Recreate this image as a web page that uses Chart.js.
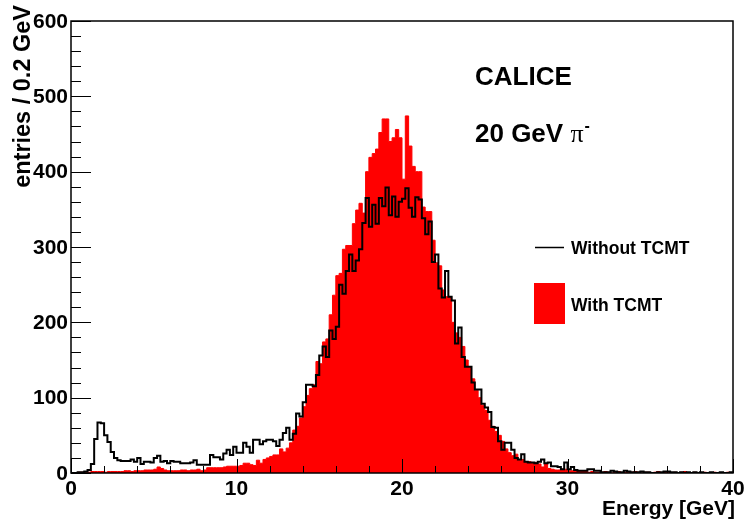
<!DOCTYPE html>
<html>
<head>
<meta charset="utf-8">
<script src="https://cdn.jsdelivr.net/npm/chart.js@4.4.0/dist/chart.umd.min.js"></script>
<style>
  html, body { margin: 0; padding: 0; background: #fff; }
  canvas { display: block; }
</style>
</head>
<body>
<canvas id="energyChart" width="744" height="519"></canvas>
<script>
// 200 bins of 0.2 GeV from 0 to 40 GeV
const binWidth = 0.2;

const withoutTcmt = [
    0, 0, 1, 1, 2, 4, 12, 45, 67, 66,
    50, 41, 28, 20, 17, 16, 16, 16, 18, 15,
    20, 12, 15, 15, 14, 20, 23, 15, 16, 13,
    16, 15, 15, 13, 13, 13, 14, 17, 11, 11,
    11, 11, 24, 21, 21, 18, 26, 31, 24, 35,
    27, 27, 40, 35, 27, 44, 44, 38, 42, 44,
    44, 42, 36, 44, 53, 60, 44, 52, 79, 75,
    94, 117, 117, 115, 130, 156, 168, 154, 189, 178,
    194, 250, 238, 268, 290, 268, 282, 297, 332, 365,
    327, 356, 331, 365, 354, 379, 342, 367, 340, 360,
    364, 378, 352, 340, 366, 363, 338, 317, 334, 280,
    290, 245, 233, 268, 234, 229, 172, 193, 154, 141,
    141, 120, 111, 111, 92, 87, 81, 61, 60, 42,
    31, 40, 40, 31, 20, 18, 25, 15, 14, 14,
    13, 15, 18, 13, 14, 9, 9, 8, 5, 14,
    5, 8, 4, 3, 3, 3, 5, 5, 3, 3,
    1, 1, 1, 3, 2, 1, 1, 3, 2, 1,
    1, 1, 2, 1, 1, 0, 0, 1, 1, 2,
    2, 1, 1, 0, 1, 0, 1, 0, 1, 0,
    1, 0, 0, 1, 0, 0, 1, 0, 0, 1
];

const withTcmt = [
    0, 0, 1, 1, 1, 1, 2, 2, 2, 2,
    1, 2, 2, 2, 2, 2, 3, 3, 2, 3,
    3, 3, 4, 4, 4, 5, 8, 6, 4, 3,
    3, 3, 3, 4, 4, 3, 4, 4, 5, 3,
    4, 7, 7, 7, 7, 7, 8, 9, 9, 9,
    9, 10, 13, 13, 11, 10, 17, 13, 18, 20,
    22, 24, 24, 32, 28, 33, 40, 57, 62, 73,
    88, 103, 112, 117, 148, 145, 174, 178, 210, 236,
    262, 265, 297, 302, 302, 331, 349, 358, 345, 400,
    419, 424, 430, 452, 470, 470, 440, 445, 456, 445,
    390, 474, 434, 407, 400, 400, 353, 347, 347, 309,
    279, 275, 243, 234, 234, 200, 186, 180, 168, 150,
    141, 125, 110, 100, 90, 83, 70, 62, 55, 50,
    42, 32, 27, 23, 25, 18, 18, 15, 15, 14,
    14, 12, 8, 12, 6, 5, 4, 4, 5, 5,
    3, 3, 3, 3, 2, 2, 1, 2, 1, 1,
    1, 2, 1, 0, 1, 2, 0, 1, 1, 1,
    2, 1, 0, 1, 1, 0, 1, 2, 0, 1,
    1, 0, 1, 0, 1, 2, 0, 0, 1, 0,
    0, 1, 0, 0, 1, 0, 0, 0, 1, 0
];

const xTickLabels = [0, 10, 20, 30, 40];
const yTickLabels = [0, 100, 200, 300, 400, 500, 600];
const seriesNames = ['Without TCMT', 'With TCMT'];

const boldFont = (px) => 'bold ' + px + 'px "Liberation Sans", Arial, Helvetica, sans-serif';

// histogram bins -> points for a stepped line (left edges + closing edge)
function toSteps(values) {
    let pts = values.map((v, i) => ({ x: i * binWidth, y: v }));
    pts.push({ x: values.length * binWidth, y: values[values.length - 1] });
    return pts;
}

// frame, inward ticks, labels, titles and legend drawn on top of the histograms
const rootAxes = {
    id: 'rootAxes',
    afterDatasetsDraw(chart) {
        const ctx = chart.ctx;
        const xs = chart.scales.x;
        const ys = chart.scales.y;
        const a = chart.chartArea;

        ctx.save();
        ctx.strokeStyle = '#000';
        ctx.fillStyle = '#000';

        // y ticks: major every 100, minor every 20
        ctx.lineWidth = 1;
        let yStep = yTickLabels[1] - yTickLabels[0];
        for (let v = ys.min; v <= ys.max; v += yStep / 5) {
            let py = Math.round(ys.getPixelForValue(v)) + 0.5;
            let len = v % yStep === 0 ? 20 : 10;
            ctx.beginPath();
            ctx.moveTo(a.left, py);
            ctx.lineTo(a.left + len, py);
            ctx.stroke();
        }

        // x ticks: major every 10 GeV, minor every 2 GeV
        let xStep = xTickLabels[1] - xTickLabels[0];
        for (let v = xs.min; v <= xs.max; v += xStep / 5) {
            let px = Math.round(xs.getPixelForValue(v)) + 0.5;
            let len = Math.round(v) % xStep === 0 ? 14 : 7;
            ctx.beginPath();
            ctx.moveTo(px, a.bottom);
            ctx.lineTo(px, a.bottom - len);
            ctx.stroke();
        }

        ctx.lineWidth = 1.5;
        ctx.strokeRect(a.left, a.top, a.right - a.left, a.bottom - a.top);

        // tick labels
        ctx.font = boldFont(21);
        ctx.textAlign = 'right';
        ctx.textBaseline = 'middle';
        yTickLabels.forEach(function (t) {
            ctx.fillText(String(t), a.left - 3, ys.getPixelForValue(t) + 1);
        });
        ctx.textAlign = 'center';
        ctx.textBaseline = 'alphabetic';
        xTickLabels.forEach(function (t) {
            ctx.fillText(String(t), xs.getPixelForValue(t), a.bottom + 22);
        });

        // axis titles
        ctx.font = boldFont(21);
        ctx.textAlign = 'right';
        ctx.fillText('Energy [GeV]', a.right + 2, a.bottom + 42);

        ctx.save();
        ctx.translate(30, 5);
        ctx.rotate(-Math.PI / 2);
        ctx.textAlign = 'right';
        ctx.font = boldFont(23.5);
        ctx.fillText('entries / 0.2 GeV', 0, 0);
        ctx.restore();

        // run labels
        ctx.textAlign = 'left';
        ctx.font = boldFont(26);
        ctx.fillText('CALICE', 475, 85);
        let head = '20 GeV ';
        ctx.fillText(head, 475, 142);
        let hx = 475 + ctx.measureText(head).width;
        ctx.font = '26px "Liberation Serif", "Times New Roman", serif';
        ctx.fillText('\u03c0', hx, 142);
        let px2 = hx + ctx.measureText('\u03c0').width;
        ctx.font = boldFont(16);
        ctx.fillText('-', px2 + 1, 131);

        // legend
        ctx.lineWidth = 1.5;
        ctx.beginPath();
        ctx.moveTo(535, 247.5);
        ctx.lineTo(564, 247.5);
        ctx.stroke();
        ctx.fillStyle = '#ff0000';
        ctx.fillRect(534, 283, 31, 41);
        ctx.fillStyle = '#000';
        ctx.font = boldFont(17.5);
        ctx.fillText(seriesNames[0], 571, 254);
        ctx.fillText(seriesNames[1], 571, 311);

        ctx.restore();
    }
};

const ctx = document.getElementById('energyChart').getContext('2d');
// 'before' keeps each bin's value flat from its left edge to the next edge
let chart = new Chart(ctx, {
    type: 'line',
    data: {
        datasets: [{
            label: seriesNames[0],
            data: toSteps(withoutTcmt),
            stepped: 'before',
            borderColor: '#000000',
            borderWidth: 2,
            borderJoinStyle: 'miter',
            pointRadius: 0,
            fill: false,
            order: 0,
        }, {
            label: seriesNames[1],
            data: toSteps(withTcmt),
            stepped: 'before',
            borderColor: '#ff0000',
            borderWidth: 1,
            backgroundColor: '#ff0000',
            pointRadius: 0,
            fill: 'origin',
            order: 1,
        }],
    },
    options: {
        responsive: false,
        animation: false,
        devicePixelRatio: 1,
        layout: { padding: { left: 71, right: 11, top: 21, bottom: 46 } },
        scales: {
            x: { type: 'linear', min: 0, max: 40, display: false },
            y: { type: 'linear', min: 0, max: 600, display: false },
        },
        plugins: {
            legend: { display: false },
            tooltip: { enabled: false },
        },
    },
    plugins: [rootAxes],
});
</script>
</body>
</html>
